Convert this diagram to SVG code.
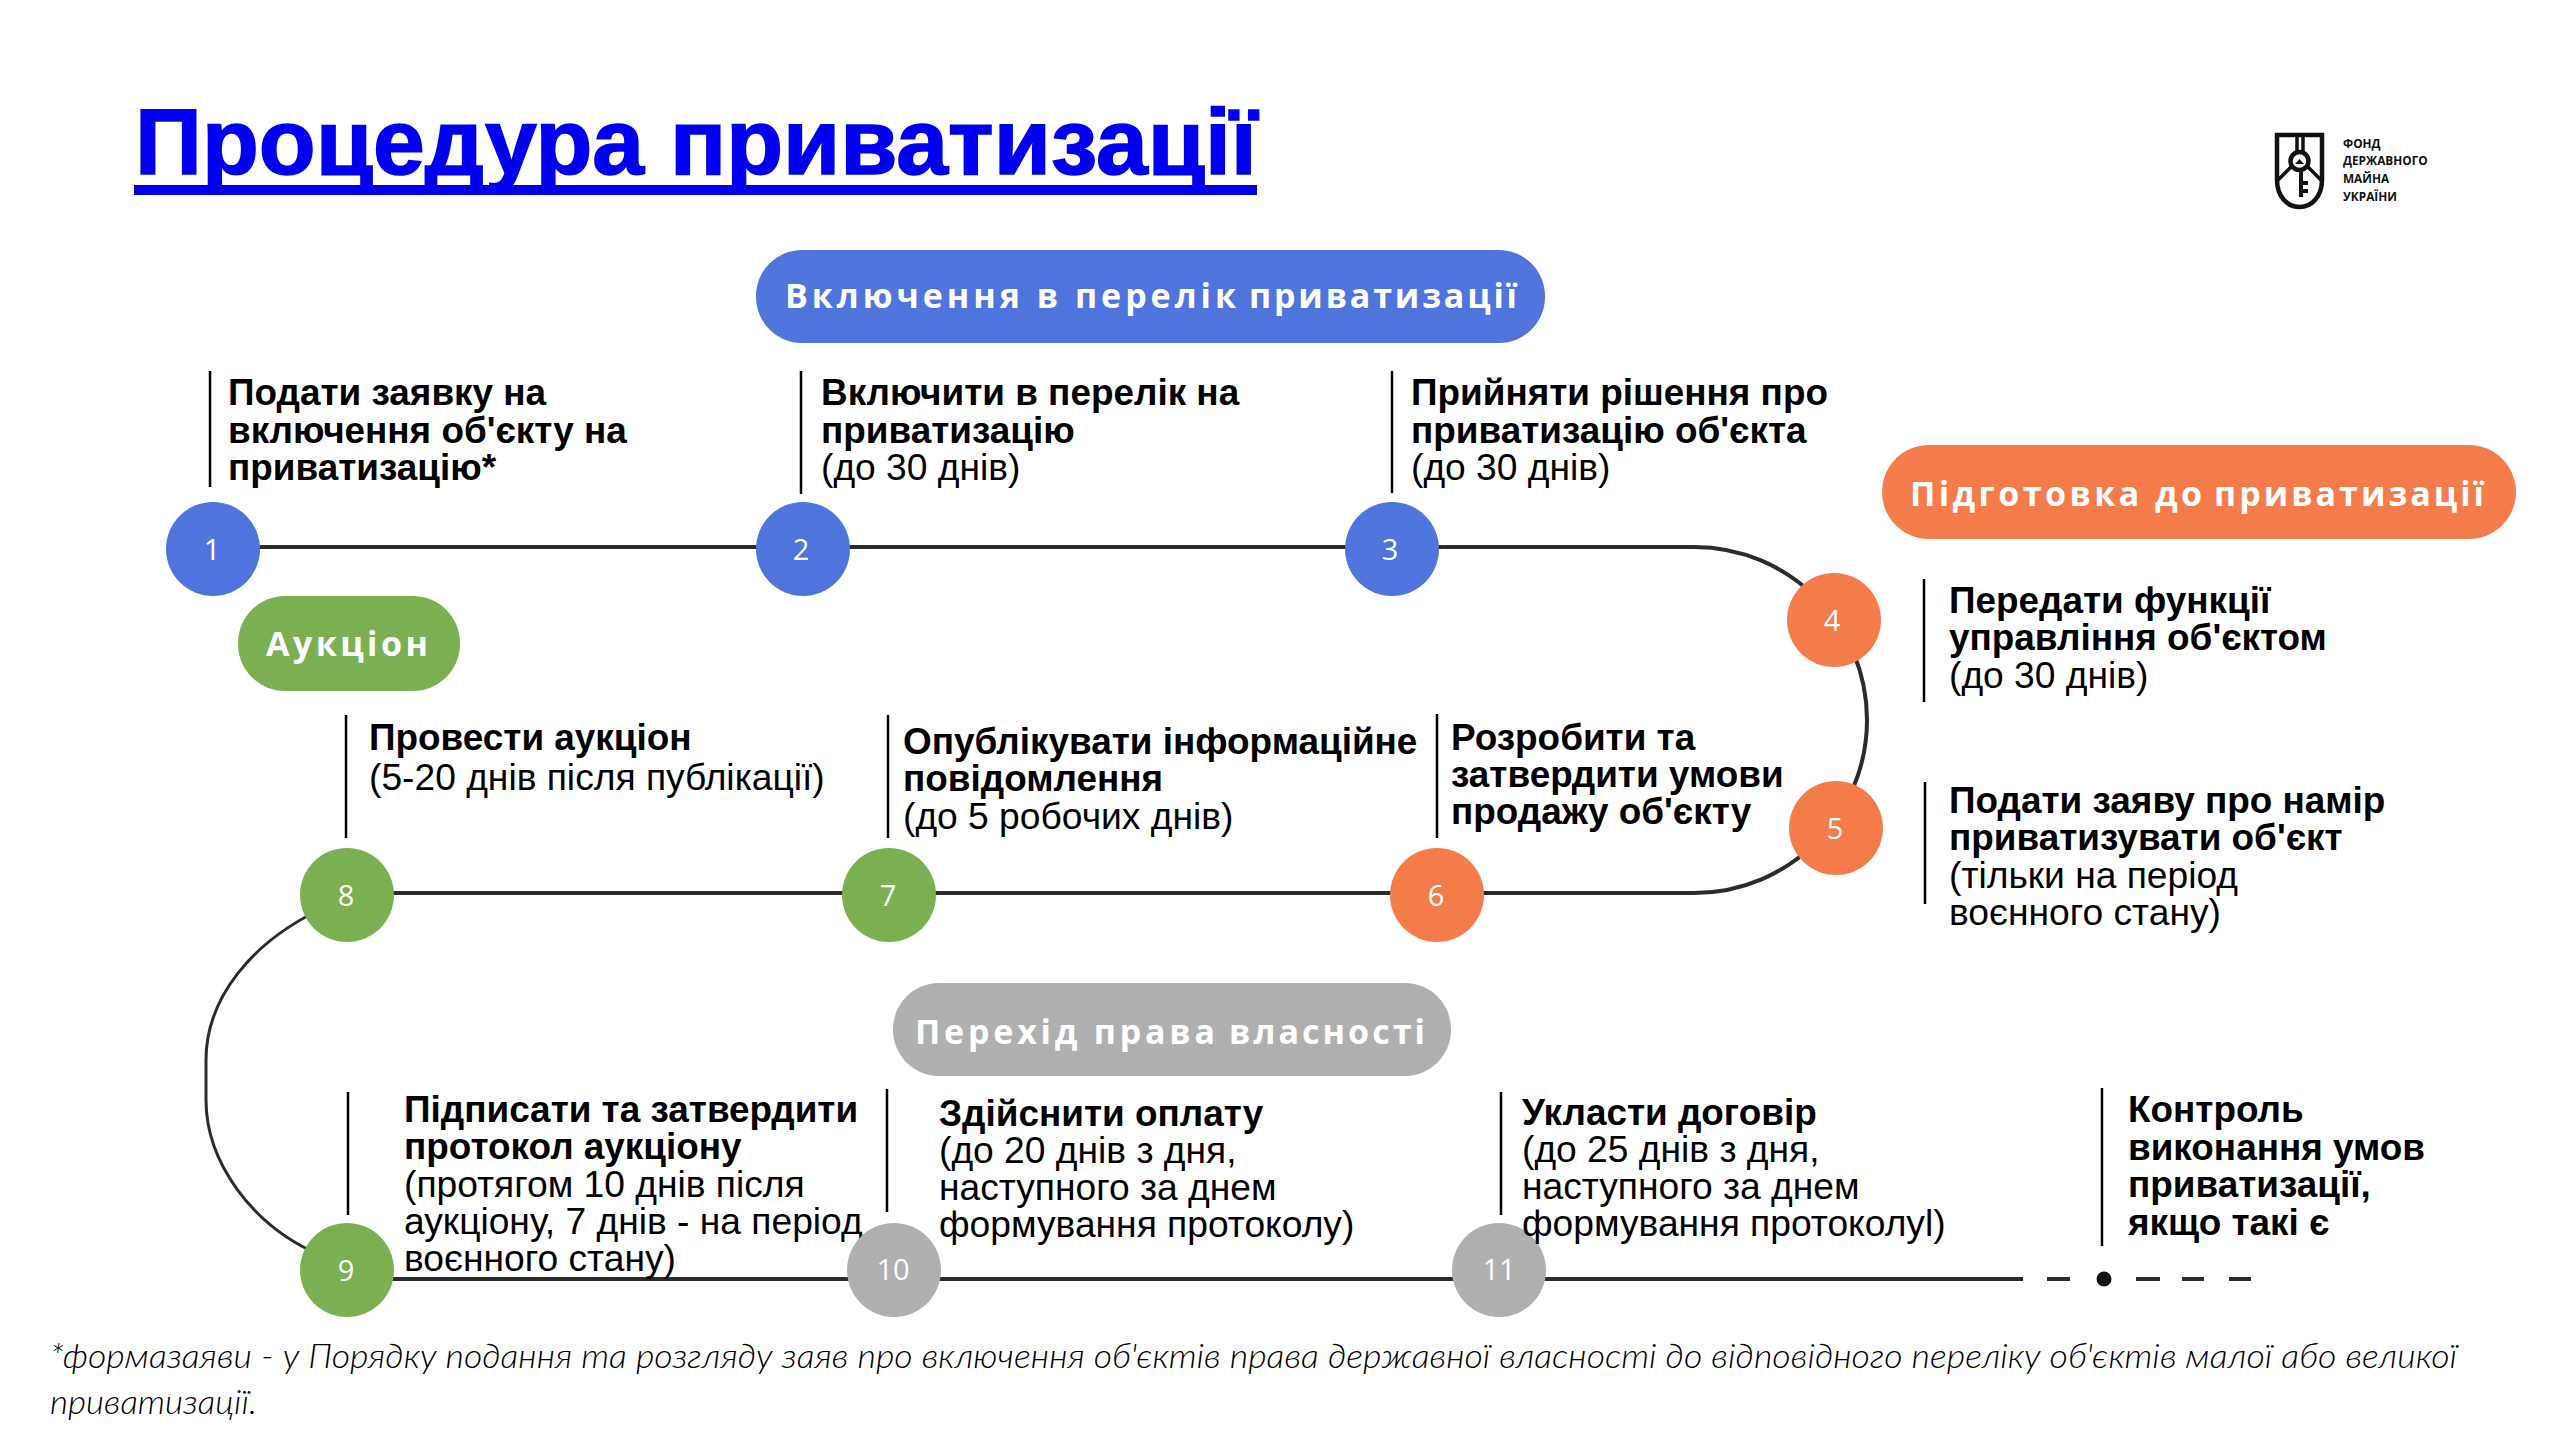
<svg xmlns="http://www.w3.org/2000/svg" width="2560" height="1441" viewBox="0 0 2560 1441">
<style>
.t{font-family:"Liberation Sans",Arial,sans-serif;font-size:37.2px;fill:#000}
.b{font-weight:700;font-size:36.9px}
.pill{font-family:"Open Sans",sans-serif;font-weight:700;font-size:34px;fill:#fff}
.num{font-family:"Open Sans",sans-serif;font-size:29px;fill:#fff;text-anchor:middle}
.tick{stroke:#000;stroke-width:2.5;fill:none}
.blue{fill:#4F75DC}.orange{fill:#F47C4A}.green{fill:#7AB051}.gray{fill:#AFAFAF}
.line{stroke:#2b2b2b;stroke-width:4;fill:none}
.thin{stroke:#2b2b2b;stroke-width:3;fill:none}
.foot{font-family:"Lato","Open Sans",sans-serif;font-style:italic;font-weight:300;font-size:33px;fill:#000}
.logot{font-family:"Open Sans",sans-serif;font-weight:700;font-size:11.8px;fill:#111}
</style>
<rect width="2560" height="1441" fill="#fff"/>
<g id="title">
<text x="135" y="174" font-family="Liberation Sans,Arial,sans-serif" font-weight="700" font-size="92" fill="#0000EE" stroke="#0000EE" stroke-width="1.6" textLength="1122" lengthAdjust="spacingAndGlyphs">Процедура приватизації</text>
<rect x="134" y="185" width="1123" height="10" fill="#0000EE"/>
</g>
<g id="connectors">
<path class="line" d="M213 547H1694C1790 547 1867 625 1867 720C1867 815 1790 893 1694 893H347"/>
<path class="thin" d="M330 905C250 940 206 1000 206 1060V1100C206 1160 250 1225 320 1255"/>
<path class="line" d="M347 1279H2023"/>
<path class="line" d="M2047 1279H2070M2136 1279H2160M2182 1279H2204M2229 1279H2251"/>
<circle cx="2104" cy="1279" r="7.5" fill="#111"/>
</g>
<g id="phase-include"><rect class="blue" x="756" y="250" width="789" height="93" rx="46"/><text class="pill" y="308"><tspan x="785" textLength="451" lengthAdjust="spacing">Включення в перелік</tspan> <tspan x="1249" textLength="268" lengthAdjust="spacing">приватизації</tspan></text></g>
<g id="phase-prepare"><rect class="orange" x="1882" y="445" width="634" height="94" rx="47"/><text class="pill" y="506"><tspan x="1910" textLength="292" lengthAdjust="spacing">Підготовка до</tspan> <tspan x="2214" textLength="270" lengthAdjust="spacing">приватизації</tspan></text></g>
<g id="phase-auction"><rect class="green" x="238" y="596" width="222" height="95" rx="47"/><text class="pill" x="266" y="656" textLength="162" lengthAdjust="spacing">Аукціон</text></g>
<g id="phase-transfer"><rect class="gray" x="893" y="983" width="558" height="93" rx="46"/><text class="pill" y="1044"><tspan x="915" textLength="300" lengthAdjust="spacing">Перехід права</tspan> <tspan x="1229" textLength="196" lengthAdjust="spacing">власності</tspan></text></g>
<g id="step-1"><circle class="blue" cx="213" cy="549" r="47"/><text class="num" x="212" y="560">1</text><line class="tick" x1="210" y1="371" x2="210" y2="487"/><text class="t b"><tspan x="228" y="405">Подати заявку на</tspan><tspan x="228" y="442.5">включення об'єкту на</tspan><tspan x="228" y="480">приватизацію*</tspan></text></g>
<g id="step-2"><circle class="blue" cx="803" cy="549" r="47"/><text class="num" x="801" y="560">2</text><line class="tick" x1="801" y1="371" x2="801" y2="494"/><text class="t"><tspan class="b" x="821" y="405">Включити в перелік на</tspan><tspan class="b" x="821" y="442.5">приватизацію</tspan><tspan x="821" y="480">(до 30 днів)</tspan></text></g>
<g id="step-3"><circle class="blue" cx="1392" cy="549" r="47"/><text class="num" x="1390" y="560">3</text><line class="tick" x1="1392" y1="371" x2="1392" y2="493"/><text class="t"><tspan class="b" x="1411" y="405">Прийняти рішення про</tspan><tspan class="b" x="1411" y="442.5">приватизацію об'єкта</tspan><tspan x="1411" y="480">(до 30 днів)</tspan></text></g>
<g id="step-4"><circle class="orange" cx="1834" cy="620" r="47"/><text class="num" x="1832" y="631">4</text><line class="tick" x1="1924" y1="579" x2="1924" y2="702"/><text class="t"><tspan class="b" x="1949" y="613">Передати функції</tspan><tspan class="b" x="1949" y="650">управління об'єктом</tspan><tspan x="1949" y="688">(до 30 днів)</tspan></text></g>
<g id="step-5"><circle class="orange" cx="1836" cy="828" r="47"/><text class="num" x="1835" y="839">5</text><line class="tick" x1="1925" y1="782" x2="1925" y2="904"/><text class="t"><tspan class="b" x="1949" y="813">Подати заяву про намір</tspan><tspan class="b" x="1949" y="850">приватизувати об'єкт</tspan><tspan x="1949" y="888">(тільки на період</tspan><tspan x="1949" y="925">воєнного стану)</tspan></text></g>
<g id="step-6"><circle class="orange" cx="1437" cy="895" r="47"/><text class="num" x="1436" y="906">6</text><line class="tick" x1="1437" y1="714" x2="1437" y2="838"/><text class="t b"><tspan x="1451" y="750">Розробити та</tspan><tspan x="1451" y="787">затвердити умови</tspan><tspan x="1451" y="824">продажу об'єкту</tspan></text></g>
<g id="step-7"><circle class="green" cx="889" cy="895" r="47"/><text class="num" x="888" y="906">7</text><line class="tick" x1="888" y1="715" x2="888" y2="838"/><text class="t"><tspan class="b" x="903" y="754">Опублікувати інформаційне</tspan><tspan class="b" x="903" y="791">повідомлення</tspan><tspan x="903" y="829">(до 5 робочих днів)</tspan></text></g>
<g id="step-8"><circle class="green" cx="347" cy="895" r="47"/><text class="num" x="346" y="906">8</text><line class="tick" x1="346" y1="715" x2="346" y2="838"/><text class="t"><tspan class="b" x="369" y="750">Провести аукціон</tspan><tspan x="369" y="790">(5-20 днів після публікації)</tspan></text></g>
<g id="step-9"><circle class="green" cx="347" cy="1270" r="47"/><text class="num" x="346" y="1281">9</text><line class="tick" x1="348" y1="1092" x2="348" y2="1215"/><text class="t"><tspan class="b" x="404" y="1122">Підписати та затвердити</tspan><tspan class="b" x="404" y="1159">протокол аукціону</tspan><tspan x="404" y="1197">(протягом 10 днів після</tspan><tspan x="404" y="1234">аукціону, 7 днів - на період</tspan><tspan x="404" y="1271">воєнного стану)</tspan></text></g>
<g id="step-10"><circle class="gray" cx="894" cy="1270" r="47"/><text class="num" x="893" y="1280">10</text><line class="tick" x1="887" y1="1089" x2="887" y2="1212"/><text class="t"><tspan class="b" x="939" y="1126">Здійснити оплату</tspan><tspan x="939" y="1163">(до 20 днів з дня,</tspan><tspan x="939" y="1200">наступного за днем</tspan><tspan x="939" y="1237">формування протоколу)</tspan></text></g>
<g id="step-11"><circle class="gray" cx="1499" cy="1270" r="47"/><text class="num" x="1499" y="1280">11</text><line class="tick" x1="1501" y1="1092" x2="1501" y2="1215"/><text class="t"><tspan class="b" x="1522" y="1125">Укласти договір</tspan><tspan x="1522" y="1162">(до 25 днів з дня,</tspan><tspan x="1522" y="1199">наступного за днем</tspan><tspan x="1522" y="1236">формування протоколуl)</tspan></text></g>
<g id="step-control"><line class="tick" x1="2102" y1="1088" x2="2102" y2="1246"/><text class="t b"><tspan x="2128" y="1122">Контроль</tspan><tspan x="2128" y="1160">виконання умов</tspan><tspan x="2128" y="1197">приватизації,</tspan><tspan x="2128" y="1235">якщо такі є</tspan></text></g>
<g id="footnote"><text class="foot" x="50" y="1368" textLength="2407" lengthAdjust="spacingAndGlyphs">*формазаяви - у Порядку подання та розгляду заяв про включення об'єктів права державної власності до відповідного переліку об'єктів малої або великої</text><text class="foot" x="50" y="1414" textLength="207" lengthAdjust="spacingAndGlyphs">приватизації.</text></g>
<g id="logo">
<path d="M2277 135H2322V180C2322 196 2312 207 2299.5 207C2287 207 2277 196 2277 180Z" fill="none" stroke="#111" stroke-width="4.5"/>
<path d="M2297 135V153M2303 135V153M2291 167L2277 181M2308 167L2322 181" stroke="#111" stroke-width="3.5" fill="none"/>
<circle cx="2299.5" cy="161" r="9" fill="#fff" stroke="#111" stroke-width="4.5"/>
<path d="M2295 164L2299.5 159L2304 164Z" fill="#111"/>
<path d="M2301 172V197M2301 183H2308M2301 191H2308" stroke="#111" stroke-width="4" fill="none"/>
<text class="logot" x="2343" y="148">ФОНД</text><text class="logot" x="2343" y="165">ДЕРЖАВНОГО</text><text class="logot" x="2343" y="183">МАЙНА</text><text class="logot" x="2343" y="201">УКРАЇНИ</text>
</g>
</svg>
